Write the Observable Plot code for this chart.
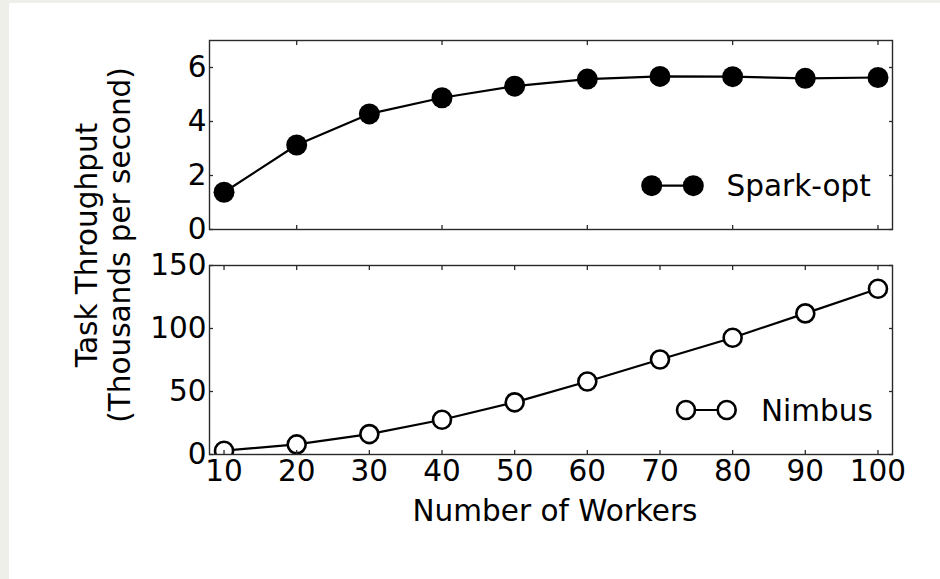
<!DOCTYPE html>
<html>
<head>
<meta charset="utf-8">
<script src="https://cdn.jsdelivr.net/npm/d3@7"></script>
<script src="https://cdn.jsdelivr.net/npm/@observablehq/plot@0.6"></script>
<style>
  html, body { margin: 0; padding: 0; }
  body { width: 940px; height: 579px; background: #efefea; position: relative; overflow: hidden; font-family: "DejaVu Sans", sans-serif; }
  #page { position: absolute; left: 9px; top: 3px; width: 931px; height: 576px; background: #ffffff; }
  .abs { position: absolute; left: 0; }
  svg { overflow: visible; }
</style>
</head>
<body>
<div id="page"></div>
<div id="top" class="abs" style="top:0px"></div>
<div id="bottom" class="abs" style="top:240px"></div>
<svg id="overlay" class="abs" style="top:0px;pointer-events:none" width="940" height="579"></svg>
<script>
const workers = [10, 20, 30, 40, 50, 60, 70, 80, 90, 100];
const sparkOpt = [1.38, 3.13, 4.28, 4.88, 5.31, 5.57, 5.67, 5.66, 5.60, 5.63];
const nimbus = [3, 8, 16.2, 27.6, 41.4, 57.9, 75.4, 92.7, 112, 131.6];
const topXTicks = [20, 40, 60, 80, 100];
const bottomXTicks = [10, 20, 30, 40, 50, 60, 70, 80, 90, 100];
const topYTicks = [0, 2, 4, 6];
const bottomYTicks = [0, 50, 100, 150];
const seriesNames = ["Spark-opt", "Nimbus"];
const xLabel = "Number of Workers";
const yLabelLines = ["Task Throughput", "(Thousands per second)"];

const sparkData = workers.map((w, i) => ({workers: w, value: sparkOpt[i]}));
const nimbusData = workers.map((w, i) => ({workers: w, value: nimbus[i]}));

const FONT = "DejaVu Sans";
const FS = 29.5;
const AX = "#2a2a2a";
const style = {fontFamily: FONT, fontSize: FS + "px", color: "#000", background: "transparent", overflow: "visible"};

const topPlot = Plot.plot({
  width: 940, height: 240,
  marginLeft: 209, marginRight: 48, marginTop: 40, marginBottom: 11,
  style,
  x: {domain: [8, 102]},
  y: {domain: [0, 7]},
  marks: [
    Plot.line(sparkData, {x: "workers", y: "value", stroke: "#000", strokeWidth: 2.2}),
    Plot.dot(sparkData, {x: "workers", y: "value", r: 10.5, fill: "#000", stroke: "none", clip: "frame"}),
    Plot.frame({stroke: AX, strokeWidth: 1.4}),
    Plot.axisX(topXTicks, {anchor: "bottom", tickSize: -4, stroke: AX, strokeWidth: 1.3, tickFormat: () => "", label: null}),
    Plot.axisX(topXTicks, {anchor: "top", tickSize: -4, stroke: AX, strokeWidth: 1.3, tickFormat: () => "", label: null}),
    Plot.axisY(topYTicks, {anchor: "left", tickSize: -4, tickPadding: 7, stroke: AX, strokeWidth: 1.3, label: null, fill: "#000"}),
    Plot.axisY(topYTicks, {anchor: "right", tickSize: -4, stroke: AX, strokeWidth: 1.3, tickFormat: () => "", label: null})
  ]
});
document.getElementById("top").appendChild(topPlot);

const bottomPlot = Plot.plot({
  width: 940, height: 339,
  marginLeft: 209, marginRight: 48, marginTop: 25, marginBottom: 125,
  style,
  x: {domain: [8, 102]},
  y: {domain: [0, 150]},
  marks: [
    Plot.line(nimbusData, {x: "workers", y: "value", stroke: "#000", strokeWidth: 2.2, clip: "frame"}),
    Plot.dot(nimbusData, {x: "workers", y: "value", r: 9, fill: "#fff", stroke: "#000", strokeWidth: 2.6, clip: "frame"}),
    Plot.frame({stroke: AX, strokeWidth: 1.4}),
    Plot.axisX(bottomXTicks, {anchor: "bottom", tickSize: -4, tickPadding: 10, stroke: AX, strokeWidth: 1.3, label: null, fill: "#000"}),
    Plot.axisX(bottomXTicks, {anchor: "top", tickSize: -4, stroke: AX, strokeWidth: 1.3, tickFormat: () => "", label: null}),
    Plot.axisY(bottomYTicks, {anchor: "left", tickSize: -4, tickPadding: 7, stroke: AX, strokeWidth: 1.3, label: null, fill: "#000"}),
    Plot.axisY(bottomYTicks, {anchor: "right", tickSize: -4, stroke: AX, strokeWidth: 1.3, tickFormat: () => "", label: null})
  ]
});
document.getElementById("bottom").appendChild(bottomPlot);

// Overlay: legends and axis titles
const ov = d3.select("#overlay");
ov.style("font-family", FONT).style("font-size", FS + "px");

function legend(x1, x2, y, tx, name, filled) {
  ov.append("line").attr("x1", x1).attr("x2", x2).attr("y1", y).attr("y2", y)
    .attr("stroke", "#000").attr("stroke-width", 2.2);
  [x1, x2].forEach(x => {
    ov.append("circle").attr("cx", x).attr("cy", y).attr("r", filled ? 10.5 : 9)
      .attr("fill", filled ? "#000" : "#fff")
      .attr("stroke", filled ? "none" : "#000").attr("stroke-width", 2.6);
  });
  ov.append("text").attr("x", tx).attr("y", y).attr("dy", "0.36em").attr("fill", "#000").text(name);
}
legend(651.7, 693.3, 185.7, 726.5, seriesNames[0], true);
legend(686, 726.7, 410, 761, seriesNames[1], false);

ov.append("text").attr("x", 555).attr("y", 520.7).attr("text-anchor", "middle").attr("fill", "#000").text(xLabel);

ov.append("text").attr("transform", "translate(97,245) rotate(-90)").attr("text-anchor", "middle").attr("fill", "#000").text(yLabelLines[0]);
ov.append("text").attr("transform", "translate(130,245) rotate(-90)").attr("text-anchor", "middle").attr("fill", "#000").text(yLabelLines[1]);
</script>
</body>
</html>
